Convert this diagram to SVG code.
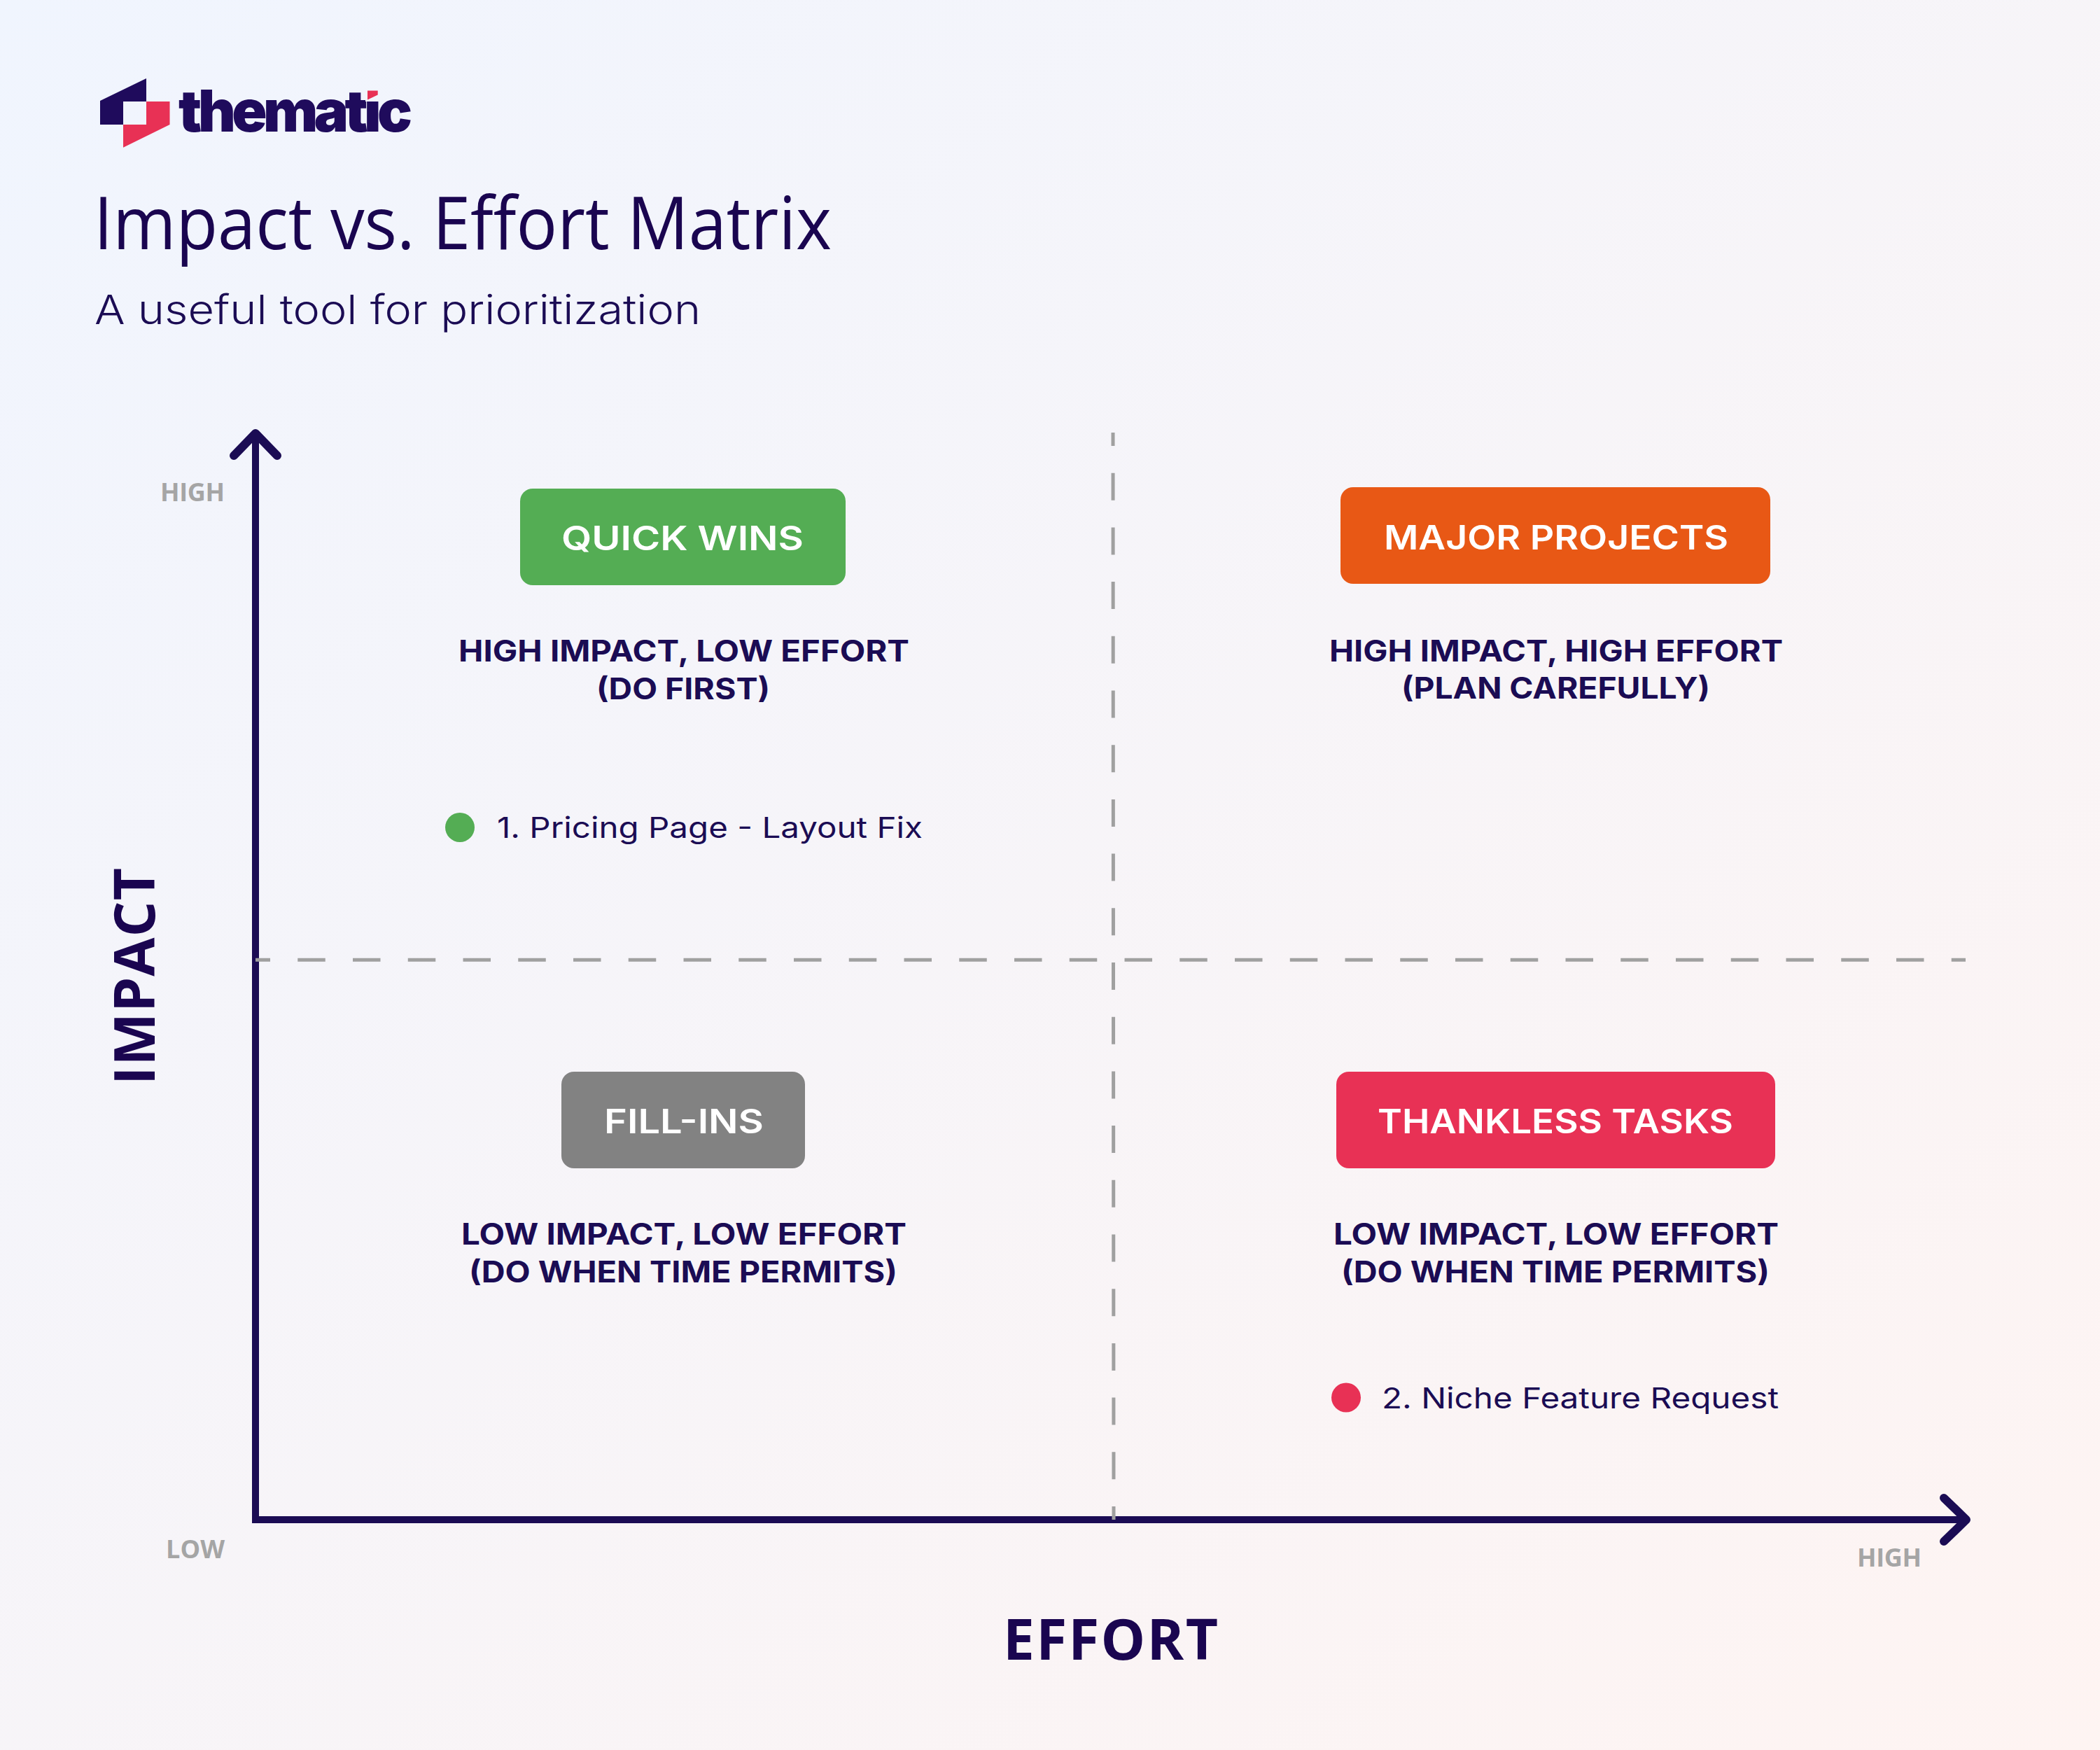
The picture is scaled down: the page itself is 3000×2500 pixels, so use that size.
<svg xmlns="http://www.w3.org/2000/svg" width="3000" height="2500" viewBox="0 0 3000 2500">
<style>
text{font-family:"Inter","Open Sans","Liberation Sans",sans-serif;fill:#1b0c54}
.pill{font-size:48px;font-weight:600;fill:#fff}
.desc{font-size:42px;font-weight:700}
.item{font-size:41px;font-weight:400}
.tick{font-family:"Open Sans","Liberation Sans",sans-serif;font-size:36px;font-weight:700;fill:#a5a5a5}
.axis{font-family:"Open Sans","Liberation Sans",sans-serif;font-size:80px;font-weight:700;fill:#1a0550}
.dash{fill:none;stroke:#a0a0a0;stroke-width:5}
</style>
<defs>
<linearGradient id="bg" x1="0" y1="0" x2="1" y2="1"><stop offset="0" stop-color="#f0f5fe"/><stop offset="1" stop-color="#fef4f2"/></linearGradient>
<marker id="arrow" markerUnits="userSpaceOnUse" markerWidth="70" markerHeight="90" refX="44" refY="45" orient="auto-start-reverse"><path d="M12 14L44 45L12 76" fill="none" stroke="#1b0c54" stroke-width="12" stroke-linecap="round" stroke-linejoin="round"/></marker>
<clipPath id="nodot"><path clip-rule="evenodd" d="M240 100H600V215H240ZM522 115H543V145H522Z"/></clipPath>
</defs>
<rect width="3000" height="2500" fill="url(#bg)"/>
<g id="logo">
<path d="M143 144L209 112V145H176V178H143Z" fill="#1f0b5c"/>
<path d="M209 145H242.500V178L176 210.700V178H209Z" fill="#e83155"/>
<text x="255" y="188" font-size="83" font-weight="900" textLength="334" lengthAdjust="spacing" style="fill:#1f0b5c" clip-path="url(#nodot)">thematic</text>
<path d="M525 129.500H539.700V135.500L525 142.500Z" fill="#e83155"/>
</g>
<g id="heading">
<text x="134" y="356" font-size="104" textLength="1054" lengthAdjust="spacingAndGlyphs" style="font-family:'Open Sans','Liberation Sans',sans-serif;fill:#1a0550">Impact vs. Effort Matrix</text>
<text x="135" y="463" font-size="58" font-weight="300" textLength="866" lengthAdjust="spacingAndGlyphs">A useful tool for prioritization</text>
</g>
<g id="connectors">
<path d="M365 619V2171H2809" fill="none" stroke="#1b0c54" stroke-width="10" marker-start="url(#arrow)" marker-end="url(#arrow)"/>
<path class="dash" d="M365 1371.300H2808" stroke-dasharray="39.500 39.250" stroke-dashoffset="18.500"/>
<path class="dash" d="M1590 618L1591 2171" stroke-dasharray="39 38.700" stroke-dashoffset="20"/>
</g>
<g id="axis-labels">
<text class="tick" x="229" y="716" textLength="92" lengthAdjust="spacing">HIGH</text>
<text class="tick" x="237" y="2226" textLength="84" lengthAdjust="spacing">LOW</text>
<text class="tick" x="2653" y="2238" textLength="92" lengthAdjust="spacing">HIGH</text>
<text class="axis" transform="translate(220.500 1550) rotate(-90)" textLength="310" lengthAdjust="spacing">IMPACT</text>
<text class="axis" x="1433" y="2371" textLength="307" lengthAdjust="spacing">EFFORT</text>
</g>
<g id="quick-wins">
<rect x="743" y="698" width="465" height="138" rx="18" fill="#54ad54"/>
<text class="pill" x="802" y="786" textLength="346" lengthAdjust="spacingAndGlyphs">QUICK WINS</text>
<text class="desc" x="655" y="945" textLength="644" lengthAdjust="spacingAndGlyphs">HIGH IMPACT, LOW EFFORT</text>
<text class="desc" x="852" y="999" textLength="248" lengthAdjust="spacingAndGlyphs">(DO FIRST)</text>
<circle cx="657" cy="1182" r="21" fill="#54ad54"/>
<text class="item" x="710" y="1197" textLength="608" lengthAdjust="spacingAndGlyphs">1. Pricing Page - Layout Fix</text>
</g>
<g id="major-projects">
<rect x="1915" y="696" width="614" height="138" rx="18" fill="#e85815"/>
<text class="pill" x="1977" y="785" textLength="492" lengthAdjust="spacingAndGlyphs">MAJOR PROJECTS</text>
<text class="desc" x="1899" y="945" textLength="648" lengthAdjust="spacingAndGlyphs">HIGH IMPACT, HIGH EFFORT</text>
<text class="desc" x="2002" y="998" textLength="441" lengthAdjust="spacingAndGlyphs">(PLAN CAREFULLY)</text>
</g>
<g id="fill-ins">
<rect x="802" y="1531" width="348" height="138" rx="18" fill="#828282"/>
<text class="pill" x="863" y="1619" textLength="228" lengthAdjust="spacingAndGlyphs">FILL-INS</text>
<text class="desc" x="659" y="1778" textLength="636" lengthAdjust="spacingAndGlyphs">LOW IMPACT, LOW EFFORT</text>
<text class="desc" x="670" y="1832" textLength="612" lengthAdjust="spacingAndGlyphs">(DO WHEN TIME PERMITS)</text>
</g>
<g id="thankless-tasks">
<rect x="1909" y="1531" width="627" height="138" rx="18" fill="#e83155"/>
<text class="pill" x="1968" y="1619" textLength="508" lengthAdjust="spacingAndGlyphs">THANKLESS TASKS</text>
<text class="desc" x="1905" y="1778" textLength="636" lengthAdjust="spacingAndGlyphs">LOW IMPACT, LOW EFFORT</text>
<text class="desc" x="1916" y="1832" textLength="612" lengthAdjust="spacingAndGlyphs">(DO WHEN TIME PERMITS)</text>
<circle cx="1923" cy="1996.500" r="21" fill="#e83155"/>
<text class="item" x="1974" y="2012" textLength="567" lengthAdjust="spacingAndGlyphs">2. Niche Feature Request</text>
</g>
</svg>
